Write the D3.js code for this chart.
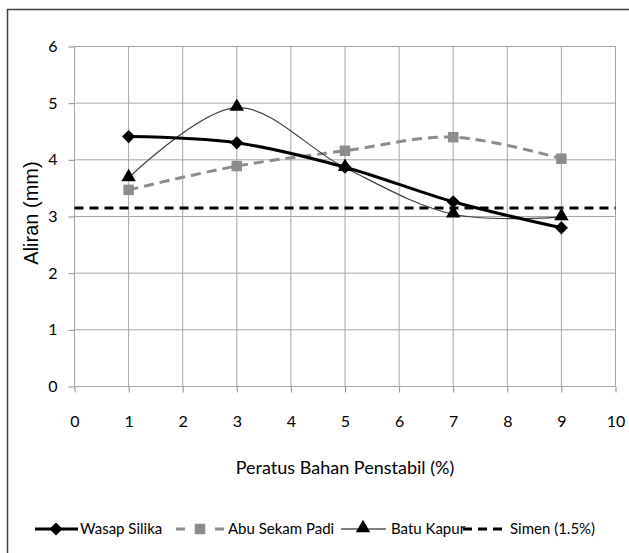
<!DOCTYPE html>
<html>
<head>
<meta charset="utf-8">
<script src="https://d3js.org/d3.v7.min.js"></script>
<style>
	body { margin: 0; background: #fff; }
	.tick text { font-family: Lato, "DejaVu Sans Condensed", sans-serif; font-size: 16px; fill: #000; }
</style>
</head>
<body>
<div id="view"></div>
<script>
var width = 629, height = 553;

// data
var xValues = [1, 3, 5, 7, 9];
var wasapSilika = [4.41, 4.30, 3.87, 3.26, 2.80];
var abuSekamPadi = [3.47, 3.89, 4.16, 4.40, 4.02];
var batuKapur = [3.68, 4.92, 3.86, 3.04, 2.99];
var simenX = [0, 10];
var simenY = [3.15, 3.15];
var xTicks = [0, 1, 2, 3, 4, 5, 6, 7, 8, 9, 10];
var yTicks = [0, 1, 2, 3, 4, 5, 6];
var legendNames = ["Wasap Silika", "Abu Sekam Padi", "Batu Kapur", "Simen (1.5%)"];

var narrow = "Lato, 'DejaVu Sans Condensed', sans-serif";

var svg = d3.select("#view").append("svg")
	.attr("width", width)
	.attr("height", height);

// chart frame
svg.append("path")
	.attr("d", "M7.5,553 L7.5,9.5 L629,9.5")
	.style("fill", "none")
	.style("stroke", "#404040")
	.style("stroke-width", 1.5);

var x = d3.scaleLinear().domain([0, 10]).range([74.5, 615.5]);
var y = d3.scaleLinear().domain([0, 6]).range([386.5, 46.5]);

// grid
svg.selectAll(".hgrid")
	.data(yTicks).enter()
	.append("line")
	.attr("x1", x(0)).attr("x2", x(10))
	.attr("y1", function(d) { return y(d); })
	.attr("y2", function(d) { return y(d); })
	.style("stroke", "#a6a6a6");

svg.selectAll(".vgrid")
	.data(xTicks).enter()
	.append("line")
	.attr("x1", function(d) { return x(d); })
	.attr("x2", function(d) { return x(d); })
	.attr("y1", y(0)).attr("y2", y(6))
	.style("stroke", "#a6a6a6");

// axes
var xAxis = svg.append("g")
	.attr("transform", "translate(0," + y(0) + ")")
	.call(d3.axisBottom(x).tickValues(xTicks).tickSize(6).tickPadding(23).tickFormat(d3.format("d")));
var yAxis = svg.append("g")
	.attr("transform", "translate(" + x(0) + ",0)")
	.call(d3.axisLeft(y).tickValues(yTicks).tickSize(6).tickPadding(11).tickFormat(d3.format("d")));
svg.selectAll(".domain, .tick line").style("stroke", "#8c8c8c");
xAxis.select(".domain").remove();
yAxis.select(".domain").remove();

svg.append("text")
	.attr("x", 345).attr("y", 474)
	.attr("text-anchor", "middle")
	.style("font-family", narrow)
	.style("font-size", "18px")
	.text("Peratus Bahan Penstabil (%)");

svg.append("text")
	.attr("transform", "translate(38,213) rotate(-90)")
	.attr("text-anchor", "middle")
	.style("font-family", "'Liberation Sans', Arial, sans-serif")
	.style("font-size", "20px")
	.text("Aliran (mm)");

var line = d3.line()
	.x(function(d) { return x(d[0]); })
	.y(function(d) { return y(d[1]); })
	.curve(d3.curveCatmullRom.alpha(0.5));

var zip = function(xs, ys) { return xs.map(function(v, i) { return [v, ys[i]]; }); };

// Simen (1.5%)
svg.append("path")
	.datum(zip(simenX, simenY))
	.attr("d", d3.line().x(function(d) { return x(d[0]); }).y(function(d) { return y(d[1]); }))
	.style("fill", "none")
	.style("stroke", "#000")
	.style("stroke-width", 3)
	.style("stroke-dasharray", "9,6");

// Abu Sekam Padi
svg.append("path")
	.datum(zip(xValues, abuSekamPadi))
	.attr("d", line)
	.style("fill", "none")
	.style("stroke", "#8c8c8c")
	.style("stroke-width", 3)
	.style("stroke-dasharray", "10,6");

// Batu Kapur
svg.append("path")
	.datum(zip(xValues, batuKapur))
	.attr("d", line)
	.style("fill", "none")
	.style("stroke", "#404040")
	.style("stroke-width", 1.2);

// Wasap Silika
svg.append("path")
	.datum(zip(xValues, wasapSilika))
	.attr("d", line)
	.style("fill", "none")
	.style("stroke", "#000")
	.style("stroke-width", 3);

var diamond = d3.symbol().type(d3.symbolDiamond2).size(110);
var square = d3.symbol().type(d3.symbolSquare).size(110);
var triangle = d3.symbol().type(d3.symbolTriangle).size(90);

svg.selectAll(".abu")
	.data(zip(xValues, abuSekamPadi)).enter()
	.append("path")
	.attr("transform", function(d) { return "translate(" + x(d[0]) + "," + y(d[1]) + ")"; })
	.attr("d", square)
	.style("fill", "#8c8c8c");

svg.selectAll(".batu")
	.data(zip(xValues, batuKapur)).enter()
	.append("path")
	.attr("transform", function(d) { return "translate(" + x(d[0]) + "," + (y(d[1]) - 1) + ")"; })
	.attr("d", triangle)
	.style("fill", "#000");

svg.selectAll(".wasap")
	.data(zip(xValues, wasapSilika)).enter()
	.append("path")
	.attr("transform", function(d) { return "translate(" + x(d[0]) + "," + y(d[1]) + ")"; })
	.attr("d", diamond)
	.style("fill", "#000");

// legend
var ly = 529;
var legend = svg.append("g");

legend.append("line").attr("x1", 35).attr("x2", 78).attr("y1", ly).attr("y2", ly)
	.style("stroke", "#000").style("stroke-width", 3);
legend.append("path").attr("transform", "translate(56," + ly + ")").attr("d", diamond).style("fill", "#000");

legend.append("line").attr("x1", 176).attr("x2", 185).attr("y1", ly).attr("y2", ly)
	.style("stroke", "#8c8c8c").style("stroke-width", 3);
legend.append("line").attr("x1", 215).attr("x2", 224).attr("y1", ly).attr("y2", ly)
	.style("stroke", "#8c8c8c").style("stroke-width", 3);
legend.append("path").attr("transform", "translate(200," + ly + ")").attr("d", square).style("fill", "#8c8c8c");

legend.append("line").attr("x1", 341).attr("x2", 386).attr("y1", ly).attr("y2", ly)
	.style("stroke", "#000").style("stroke-width", 1.2);
legend.append("path").attr("transform", "translate(363," + (ly - 1) + ")").attr("d", triangle).style("fill", "#000");

legend.append("line").attr("x1", 463).attr("x2", 506).attr("y1", ly).attr("y2", ly)
	.style("stroke", "#000").style("stroke-width", 3).style("stroke-dasharray", "9,6");

legend.selectAll("text")
	.data(legendNames).enter()
	.append("text")
	.attr("x", function(d, i) { return [80, 228, 391, 510][i]; })
	.attr("y", ly + 5)
	.style("font-family", narrow)
	.style("font-size", "15px")
	.text(function(d) { return d; });
</script>
</body>
</html>
